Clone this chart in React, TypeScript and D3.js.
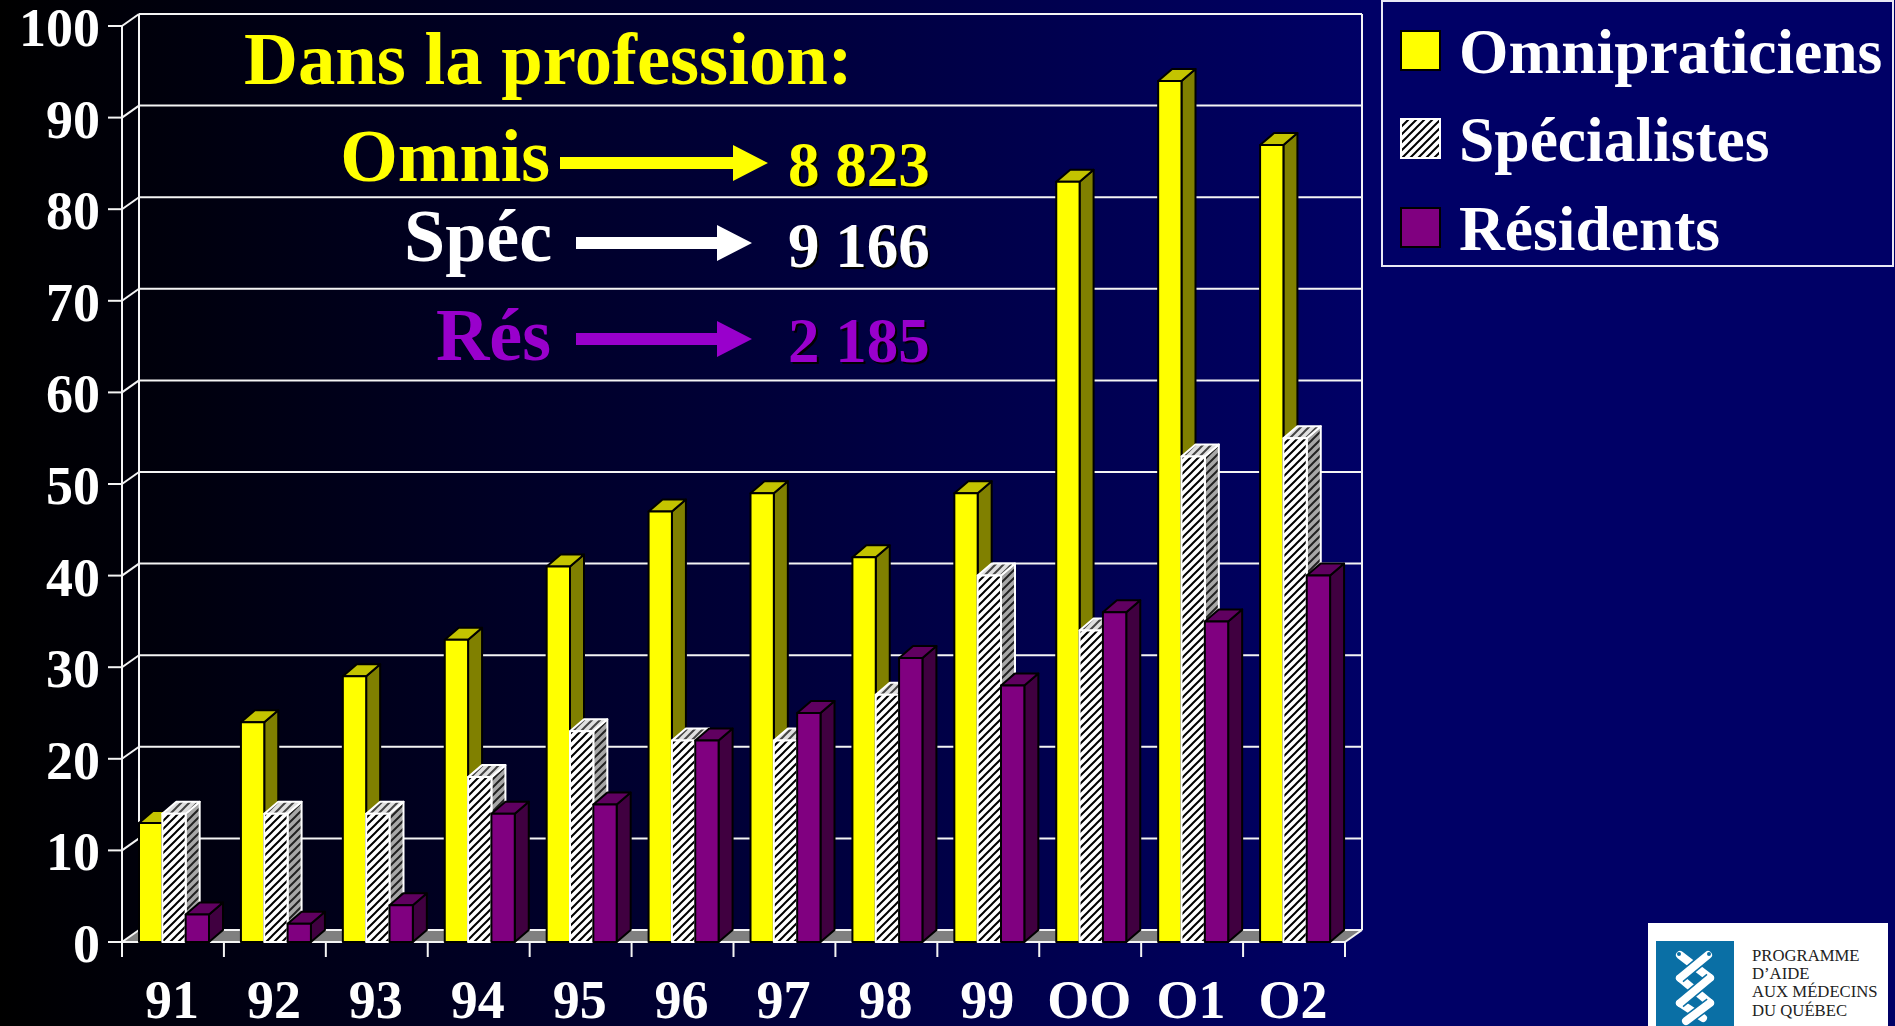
import React from "react";
import * as d3 from "d3";

const years = ["91", "92", "93", "94", "95", "96", "97", "98", "99", "OO", "O1", "O2"];
const omnis = [13, 24, 29, 33, 41, 47, 49, 42, 49, 83, 94, 87];
const specialistes = [14, 14, 14, 18, 23, 22, 22, 27, 40, 34, 53, 55];
const residents = [3, 2, 4, 14, 15, 22, 25, 31, 28, 36, 35, 40];
const yTicks = [0, 10, 20, 30, 40, 50, 60, 70, 80, 90, 100];
const legendLabels = ["Omnipraticiens", "Spécialistes", "Résidents"];
const totals = [
  { label: "Omnis", value: "8 823", color: "#ffff00" },
  { label: "Spéc", value: "9 166", color: "#ffffff" },
  { label: "Rés", value: "2 185", color: "#9900cc" },
];

const W = 1895, H = 1026;
const DX = 17, DY = 12;
const BAR_DX = 14, BAR_DY = 12;
const x0 = 122, x1 = 1345, yBase = 942, yTop = 26;
const font = "'Liberation Serif', 'Times New Roman', serif";

const y = d3.scaleLinear().domain([0, 100]).range([yBase, yTop]);
const xGroup = d3.scaleBand<string>().domain(years).range([x0, x1]);
const xSeries = d3.scaleBand<string>().domain(["o", "s", "r"]).range([17, 87]);

const styles = [
  { key: "o", values: omnis, front: "#ffff00", top: "#c4c400", side: "#808000", stroke: "#000" },
  { key: "s", values: specialistes, front: "url(#hFront)", top: "url(#hTop)", side: "url(#hSide)", stroke: "#fff" },
  { key: "r", values: residents, front: "#800080", top: "#600060", side: "#400040", stroke: "#000" },
];

function Bar3D({ x, w, v, s }: any) {
  const t = y(v);
  const pts = (a: number[][]) => a.map((p) => p.join(",")).join(" ");
  return (
    <g stroke={s.stroke} strokeWidth={2} strokeLinejoin="round">
      <polygon points={pts([[x + w, t], [x + w + BAR_DX, t - BAR_DY], [x + w + BAR_DX, yBase - BAR_DY], [x + w, yBase]])} fill={s.side} />
      <polygon points={pts([[x, t], [x + BAR_DX, t - BAR_DY], [x + w + BAR_DX, t - BAR_DY], [x + w, t]])} fill={s.top} />
      <rect x={x} y={t} width={w} height={yBase - t} fill={s.front} />
    </g>
  );
}

function Arrow({ x, xEnd, yc, color }: any) {
  const p = d3.path();
  p.moveTo(x, yc - 6);
  p.lineTo(xEnd - 35, yc - 6);
  p.lineTo(xEnd - 35, yc - 18);
  p.lineTo(xEnd, yc);
  p.lineTo(xEnd - 35, yc + 18);
  p.lineTo(xEnd - 35, yc + 6);
  p.lineTo(x, yc + 6);
  p.closePath();
  return <path d={p.toString()} fill={color} />;
}

function Txt({ x, y: ty, size, fill, children, shadow, anchor }: any) {
  const common = { fontSize: size, fontWeight: 700, fontFamily: font, textAnchor: anchor ?? "start" };
  return (
    <>
      {shadow && <text {...common} x={x + 2} y={ty + 2} fill="#000">{children}</text>}
      <text {...common} x={x} y={ty} fill={fill}>{children}</text>
    </>
  );
}

const labelPos = [
  { lx: 550, ly: 181, ax: 560, ae: 768, ay: 163, vy: 186 },
  { lx: 552, ly: 261, ax: 576, ae: 752, ay: 243, vy: 267 },
  { lx: 551, ly: 360, ax: 576, ae: 752, ay: 339, vy: 362 },
];
const legendY = [30, 118, 207];
const legendFill = ["#ffff00", "url(#hFront)", "#800080"];
const logoLines = ["PROGRAMME", "D’AIDE", "AUX MÉDECINS", "DU QUÉBEC"];
const logoBase = [961, 979, 997, 1016];
const logoBack = ["M1680,955 L1710,978", "M1680,978 L1710,1003", "M1680,1003 L1703,1018"];
const logoFront = ["M1708,955 L1680,978", "M1710,978 L1680,1003", "M1710,1003 L1686,1021"];

export default function App() {
  return (
    <svg width={W} height={H} viewBox={`0 0 ${W} ${H}`} style={{ position: "absolute", left: 0, top: 0, display: "block" }}>
      <defs>
        <linearGradient id="bg" x1="0" x2="1" y1="0" y2="0">
          <stop offset="0" stopColor="#000000" />
          <stop offset="0.72" stopColor="#000066" />
          <stop offset="1" stopColor="#000066" />
        </linearGradient>
        <pattern id="hFront" patternUnits="userSpaceOnUse" width={8} height={8}>
          <rect width={8} height={8} fill="#fff" />
          <path d="M-2,2 L2,-2 M0,8 L8,0 M6,10 L10,6" stroke="#000" strokeWidth={2} />
        </pattern>
        <pattern id="hSide" patternUnits="userSpaceOnUse" width={8} height={8}>
          <rect width={8} height={8} fill="#a8a8a8" />
          <path d="M-2,2 L2,-2 M0,8 L8,0 M6,10 L10,6" stroke="#222" strokeWidth={2} />
        </pattern>
        <pattern id="hTop" patternUnits="userSpaceOnUse" width={8} height={8}>
          <rect width={8} height={8} fill="#e0e0e0" />
          <path d="M-2,2 L2,-2 M0,8 L8,0 M6,10 L10,6" stroke="#444" strokeWidth={2} />
        </pattern>
      </defs>
      <rect width={W} height={H} fill="url(#bg)" />

      {/* floor and walls */}
      <polygon points={`${x0},${yBase} ${x0 + DX},${yBase - DY} ${x1 + DX},${yBase - DY} ${x1},${yBase}`} fill="#808080" />
      <g stroke="#f4f4f4" strokeWidth={2} fill="none">
        {yTicks.map((t) => (
          <g key={t}>
            <line x1={x0 + DX} x2={x1 + DX} y1={y(t) - DY} y2={y(t) - DY} />
            <line x1={x0} x2={x0 + DX} y1={y(t)} y2={y(t) - DY} />
            <line x1={108} x2={x0} y1={y(t)} y2={y(t)} />
          </g>
        ))}
        <line x1={x0} x2={x0} y1={yTop} y2={957} />
        <line x1={x0 + DX} x2={x0 + DX} y1={yTop - DY} y2={yBase - DY} />
        <line x1={x1 + DX} x2={x1 + DX} y1={yTop - DY} y2={yBase - DY} />
        <line x1={x1} x2={x1 + DX} y1={yBase} y2={yBase - DY} />
        <line x1={x0} x2={x1} y1={yBase} y2={yBase} />
        {[...years.map((c) => xGroup(c)!), x1].map((tx, i) => (
          <line key={i} x1={tx} x2={tx} y1={yBase} y2={957} />
        ))}
      </g>

      {/* bars */}
      {years.map((c, i) => (
        <g key={c}>
          {styles.map((s) => (
            <Bar3D key={s.key} x={xGroup(c)! + xSeries(s.key)!} w={xSeries.bandwidth()} v={s.values[i]} s={s} />
          ))}
        </g>
      ))}

      {/* axis labels */}
      {yTicks.map((t) => (
        <Txt key={t} x={100} y={y(t) + 20} size={54} fill="#fff" anchor="end">{t}</Txt>
      ))}
      {years.map((c) => (
        <Txt key={c} x={xGroup(c)! + xGroup.bandwidth() / 2 - 1} y={1018} size={54} fill="#fff" anchor="middle">{c}</Txt>
      ))}

      {/* annotation */}
      <Txt x={244} y={84} size={74.7} fill="#ffff00">Dans la profession:</Txt>
      {totals.map((d, i) => {
        const p = labelPos[i];
        return (
          <g key={d.label}>
            <Txt x={p.lx} y={p.ly} size={74} fill={d.color} anchor="end">{d.label}</Txt>
            <Arrow x={p.ax} xEnd={p.ae} yc={p.ay} color={d.color} />
            <Txt x={788} y={p.vy} size={63} fill={d.color} shadow>{d.value}</Txt>
          </g>
        );
      })}

      {/* legend */}
      <rect x={1382} y={1} width={511} height={265} fill="#000066" stroke="#e8e8f4" strokeWidth={2} />
      {legendLabels.map((l, i) => (
        <g key={l}>
          <rect x={1401} y={legendY[i] + 1} width={39} height={39} fill={legendFill[i]} stroke={i === 1 ? "#fff" : "#000"} strokeWidth={2} />
          <Txt x={1459} y={legendY[i] + 43} size={63.5} fill="#fff">{l}</Txt>
        </g>
      ))}

      {/* logo */}
      <rect x={1648} y={923} width={240} height={103} fill="#fff" />
      <rect x={1656} y={941} width={78} height={85} fill="#0a6fa5" />
      <g fill="none" strokeLinecap="round">
        {logoBack.map((d) => <path key={d} d={d} stroke="#fff" strokeWidth={8} />)}
        {logoFront.map((d) => (
          <g key={d}>
            <path d={d} stroke="#0a6fa5" strokeWidth={11} strokeLinecap="butt" />
            <path d={d} stroke="#fff" strokeWidth={8} />
          </g>
        ))}
      </g>
      <circle cx={1679} cy={954} r={2} fill="#0a6fa5" />
      <circle cx={1709} cy={954} r={2} fill="#0a6fa5" />
      {logoLines.map((l, i) => (
        <text key={l} x={1752} y={logoBase[i]} fontSize={16.7} fontFamily={font} fill="#222">{l}</text>
      ))}
    </svg>
  );
}
